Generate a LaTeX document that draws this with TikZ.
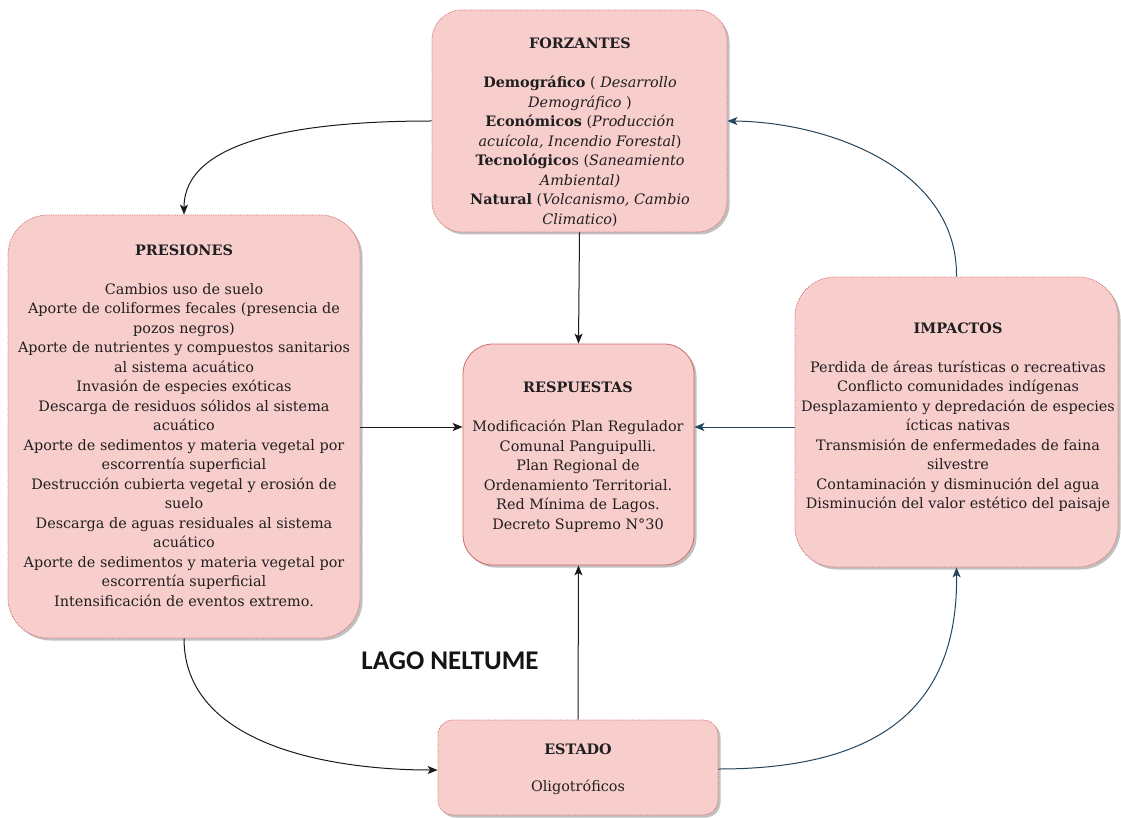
\documentclass[tikz,border=0pt]{standalone}
\usepackage{fontspec}
\setmainfont{DejaVu Serif}
\newfontfamily\captionfont{Carlito}
\usetikzlibrary{shadows,arrows.meta}

\definecolor{boxfill}{HTML}{F8CECC}
\definecolor{boxline}{HTML}{D06A66}
\definecolor{wireA}{HTML}{1A1A1A}
\definecolor{wireB}{HTML}{23445D}

\tikzset{
  block/.style={draw=boxline, fill=boxfill, densely dotted, line width=0.8pt,
    drop shadow={shadow xshift=2.5pt, shadow yshift=-2.5pt, opacity=0.35, fill=black!70}},
  solidblock/.style={block, solid},
  body/.style={align=center, inner sep=0pt, text=black!88,
    font=\fontsize{14.4}{19.5}\selectfont},
  link/.style={line width=1pt, draw=wireA,
    -{Stealth[length=10pt,width=8pt,inset=2.5pt]}},
  navylink/.style={link, draw=wireB, -{Stealth[length=10pt,width=8pt,inset=2.5pt,fill=wireB]}}
}

\begin{document}
\begin{tikzpicture}[x=1pt,y=-1pt]
\useasboundingbox (0,0) rectangle (1121,818);

% boxes
\node[block, rounded corners=30pt, minimum width=295pt, minimum height=222pt] (forz) at (579.5,121) {};
\node[block, rounded corners=40pt, minimum width=352pt, minimum height=423pt] (pres) at (184,426.5) {};
\node[solidblock, rounded corners=30pt, minimum width=231pt, minimum height=221pt] (resp) at (578.5,454.5) {};
\node[block, rounded corners=40pt, minimum width=323pt, minimum height=290pt] (impa) at (956.5,422) {};
\node[block, rounded corners=15pt, minimum width=280pt, minimum height=95pt] (esta) at (578,767.5) {};

% texts
\node[body] (forztext) at (580,132.5) {\textbf{FORZANTES}\\ \\
\textbf{Demográfico} ( \textit{Desarrollo}\\
\textit{Demográfico} )\\
\textbf{Económicos} (\textit{Producción}\\
\textit{acuícola, Incendio Forestal})\\
\textbf{Tecnológico}s (\textit{Saneamiento}\\
\textit{Ambiental)}\\
\textbf{Natural} (\textit{Volcanismo, Cambio}\\
\textit{Climatico})};

\node[body] (prestext) at (184,425.5) {\textbf{PRESIONES}\\ \\
Cambios uso de suelo\\
Aporte de coliformes fecales (presencia de\\
pozos negros)\\
Aporte de nutrientes y compuestos sanitarios\\
al sistema acuático\\
Invasión de especies exóticas\\
Descarga de residuos sólidos al sistema\\
acuático\\
Aporte de sedimentos y materia vegetal por\\
escorrentía superficial\\
Destrucción cubierta vegetal y erosión de\\
suelo\\
Descarga de aguas residuales al sistema\\
acuático\\
Aporte de sedimentos y materia vegetal por\\
escorrentía superficial\\
Intensificación de eventos extremo.};

\node[body] (resptext) at (578,457) {\textbf{RESPUESTAS}\\ \\
Modificación Plan Regulador\\
Comunal Panguipulli.\\
Plan Regional de\\
Ordenamiento Territorial.\\
Red Mínima de Lagos.\\
Decreto Supremo N°30};

\node[body] (impatext) at (958,417.5) {\textbf{IMPACTOS}\\ \\
Perdida de áreas turísticas o recreativas\\
Conflicto comunidades indígenas\\
Desplazamiento y depredación de especies\\
ícticas nativas\\
Transmisión de enfermedades de faina\\
silvestre\\
Contaminación y disminución del agua\\
Disminución del valor estético del paisaje};

\node[body] (estatext) at (578,769.5) {\textbf{ESTADO}\\ \\[-2pt]
Oligotróficos};

% caption
\node[font=\captionfont\bfseries\fontsize{27}{29}\selectfont, text=black!92]
  (lago) at (450,661) {LAGO NELTUME};

% connectors
\draw[link] (forz.west) .. controls (300,121) and (184,140) .. (pres.north);
\draw[navylink] (impa.north) .. controls (958,170) and (830,122) .. (forz.east);
\draw[link] (forz.south) -- (resp.north);
\draw[link] (pres.east |- 0,427) coordinate (pe) -- (resp.west |- pe);
\draw[navylink] (impa.west |- 0,427) coordinate (ie) -- (resp.east |- ie);
\draw[link] (esta.north) -- (resp.south);
\draw[link] (pres.south) .. controls (184,745) and (330,770) .. (esta.west |- 0,770);
\draw[navylink] (esta.east |- 0,769) .. controls (900,769) and (958,690) .. (impa.south);
\end{tikzpicture}
\end{document}
